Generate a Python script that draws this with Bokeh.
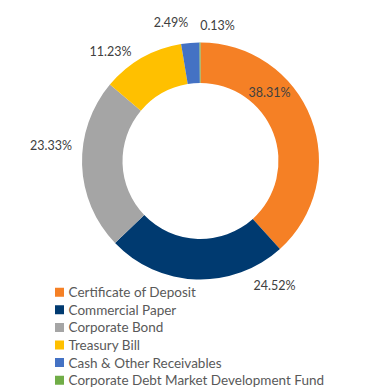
import math
from bokeh.plotting import figure
from bokeh.models import Range1d, ColumnDataSource
from bokeh.core.properties import value
from bokeh.embed import file_html
from bokeh.resources import INLINE

# ---- data ----
categories = ["Certificate of Deposit", "Commercial Paper", "Corporate Bond",
              "Treasury Bill", "Cash & Other Receivables",
              "Corporate Debt Market Development Fund"]
shares = [38.31, 24.52, 23.33, 11.23, 2.49, 0.13]
labels = ["38.31%", "24.52%", "23.33%", "11.23%", "2.49%", "0.13%"]
colors = ["#F58025", "#003A70", "#A5A5A5", "#FFC000", "#4472C4", "#70AD47"]

# ---- layout (page pixel coordinates, y measured downward) ----
W, H = 370, 390
CX, CY = 200.0, 160.5
R_OUT, R_IN = 118.5, 78.0
# label offsets from donut centre (dx right, dy down)
label_off = [(69, -68.5), (74, 124.5), (-149.5, -15.5), (-90, -109.5), (-29.5, -138.5), (17, -135.5)]
LEG_X, LEG_Y0, LEG_DY = 59, 291.7, 17.6


def Y(y):
    return H - y

p = figure(width=W, height=H, output_backend="svg", toolbar_location=None,
           x_range=Range1d(0, W), y_range=Range1d(0, H),
           min_border=0, outline_line_color=None)
p.axis.visible = False
p.grid.visible = False
p.background_fill_color = "white"
p.border_fill_color = "white"

total = sum(shares)
starts, ends = [], []
acc = 0.0
for s in shares:
    starts.append(math.pi / 2 - 2 * math.pi * acc / total)
    acc += s
    ends.append(math.pi / 2 - 2 * math.pi * acc / total)

src = ColumnDataSource(dict(start=starts, end=ends, color=colors))
p.annular_wedge(x=CX, y=Y(CY), inner_radius=R_IN, outer_radius=R_OUT,
                start_angle="start", end_angle="end", direction="clock",
                fill_color="color", line_color=None, source=src)

lsrc = ColumnDataSource(dict(x=[CX + dx for dx, dy in label_off],
                             y=[Y(CY + dy) for dx, dy in label_off],
                             t=labels))
p.text(x="x", y="y", text="t", source=lsrc, text_align="center",
       text_baseline="middle", text_font=value("Lato"), text_font_size="12.5px",
       text_color="#404040")

leg_y = [Y(LEG_Y0 + i * LEG_DY) for i in range(len(categories))]
gsrc = ColumnDataSource(dict(x=[LEG_X] * len(categories), y=leg_y, c=colors,
                             tx=[LEG_X + 9] * len(categories), t=categories))
p.rect(x="x", y="y", width=9, height=9, fill_color="c", line_color=None, source=gsrc)
p.text(x="tx", y="y", text="t", source=gsrc, text_align="left",
       text_baseline="middle", text_font=value("Lato"), text_font_size="13.5px",
       text_color="#595959")

open("out.html", "w").write(file_html(p, INLINE))
